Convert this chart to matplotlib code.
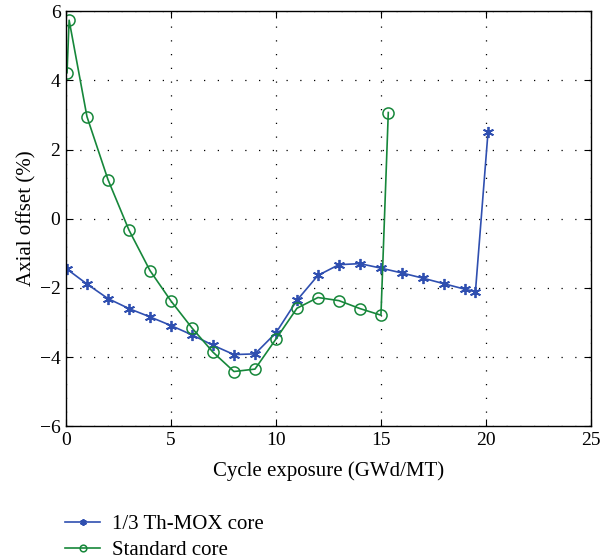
import numpy as np
import matplotlib
matplotlib.use('Agg')
import matplotlib.pyplot as plt

# data
thmox_x = [0.05, 1, 2, 3, 4, 5, 6, 7, 8, 9, 10, 11, 12, 13, 14, 15, 16, 17, 18, 19, 19.5, 20.1]
thmox_y = [-1.46, -1.89, -2.31, -2.6, -2.84, -3.09, -3.36, -3.66, -3.93, -3.91, -3.3, -2.36,
           -1.64, -1.33, -1.3, -1.43, -1.57, -1.72, -1.88, -2.04, -2.11, 2.51]
std_x = [0.05, 0.15, 1, 2, 3, 4, 5, 6, 7, 8, 9, 10, 11, 12, 13, 14, 15, 15.35]
std_y = [4.22, 5.74, 2.95, 1.13, -0.33, -1.5, -2.38, -3.16, -3.86, -4.42, -4.35, -3.48,
         -2.59, -2.28, -2.37, -2.6, -2.79, 3.07]

labels = ['1/3 Th-MOX core', 'Standard core']

plt.rcParams['font.family'] = ['Liberation Serif', 'DejaVu Serif']

fig = plt.figure(figsize=(6.02, 5.6), dpi=100)
ax = fig.add_axes([0.1096, 0.239, 0.872, 0.741])

blue = '#2f4fb0'
green = '#16873a'
ax.plot(thmox_x, thmox_y, color=blue, linewidth=1.2, marker=(6, 2, 0),
        markersize=8, markeredgewidth=1.3, label=labels[0])
ax.plot(std_x, std_y, color=green, linewidth=1.2, marker='o', markersize=8,
        markerfacecolor='none', markeredgewidth=1.1, label=labels[1])

ax.set_xlim(0, 25)
ax.set_ylim(-6, 6)
ax.set_xticks(np.arange(0, 26, 5))
ax.set_yticks(np.arange(-6, 7, 2))
ax.set_yticklabels(['\u22126', '\u22124', '\u22122', '0', '2', '4', '6'])
ax.tick_params(direction='in', top=True, right=True, labelsize=14, length=5, pad=4)
ax.grid(True, color='black', linestyle=(0, (1, 10)), linewidth=0.9)
for s in ax.spines.values():
    s.set_linewidth(1.0)

ax.set_xlabel('Cycle exposure (GWd/MT)', fontsize=15, labelpad=9)
ax.set_ylabel('Axial offset (%)', fontsize=15, labelpad=2)

fig.legend(loc='upper left', bbox_to_anchor=(0.108, 0.081), frameon=False,
           fontsize=15, handlelength=1.7, handletextpad=0.55, labelspacing=0.3,
           borderpad=0, borderaxespad=0, markerscale=0.6)

fig.savefig('out.png', dpi=100)
